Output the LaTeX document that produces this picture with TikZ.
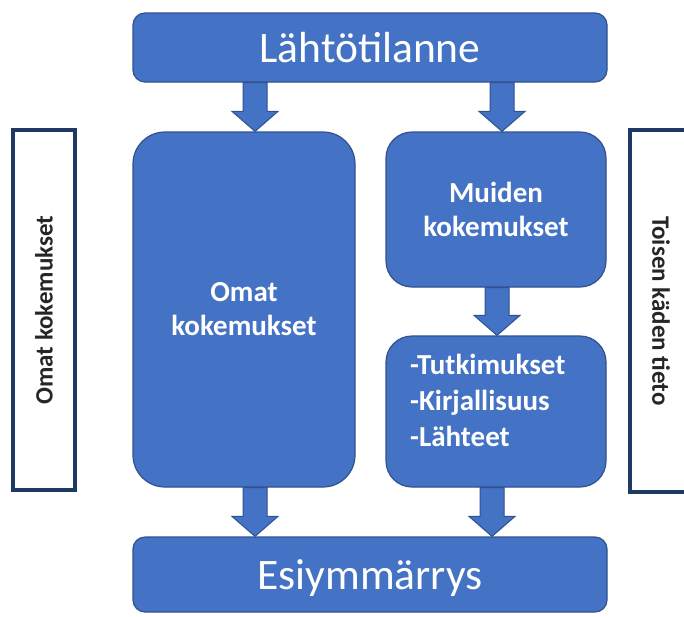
\documentclass[tikz,border=0pt]{standalone}
\usepackage{fontspec}
\setmainfont{Carlito}
\usetikzlibrary{calc}
\definecolor{boxblue}{HTML}{4472C4}
\definecolor{boxline}{HTML}{2F528F}
\definecolor{navy}{HTML}{1F3864}
\tikzset{
  bluebox/.style={draw=boxline, line width=1.2pt, fill=boxblue, text=white, inner sep=0pt},
  titlebox/.style={bluebox, rounded corners=12pt, font=\fontsize{43.5}{52}\selectfont, text height=29pt, text depth=0pt},
  bigbox/.style={bluebox, rounded corners=#1, font=\bfseries\fontsize{29}{34}\selectfont, align=center},
  sidebox/.style={draw=navy, line width=3.3pt, fill=white, inner sep=0pt, minimum width=62pt},
  sidetext/.style={font=\bfseries\fontsize{25}{30}\selectfont, text=black!85, inner sep=0pt},
  barrowstyle/.style={draw=boxline, line width=1pt, fill=boxblue, line join=miter},
}
\newcommand\blockarrow[2]{%
  \draw[barrowstyle] let \p1=(#1), \p2=(#2) in
    (\x1-12pt,\y1) -- (\x1+12pt,\y1) -- (\x1+12pt,\y2+20pt) -- (\x1+23pt,\y2+20pt)
    -- (\x1,\y2) -- (\x1-23pt,\y2+20pt) -- (\x1-12pt,\y2+20pt) -- cycle;}
\begin{document}
\begin{tikzpicture}[x=1pt,y=-1pt]
\useasboundingbox (0,0) rectangle (684,616);
% side boxes
\node[sidebox, minimum height=360pt] (lside) at (44,310) {};
\node[sidetext, rotate=90] (ltext) at (lside.center) {Omat kokemukset};
\node[sidebox, minimum height=362pt] (rside) at (661,311) {};
\node[sidetext, rotate=-90] (rtext) at (rside.center) {Toisen käden tieto};
% main boxes
\node[titlebox, minimum width=474pt, minimum height=69pt] (top) at (370,47.5) {Lähtötilanne};
\node[titlebox, minimum width=474pt, minimum height=75pt] (bot) at (370,574.5) {Esiymmärrys};
\node[bigbox=32pt, minimum width=222pt, minimum height=355pt] (lbig) at (244,309.5) {Omat\\kokemukset};
\node[bigbox=26pt, minimum width=220pt, minimum height=155pt] (rtop) at (496,209.5) {Muiden\\kokemukset};
\node[bigbox=26pt, minimum width=220pt, minimum height=151pt] (rbot) at (496,411.5) {};
\node[font=\bfseries\fontsize{29}{36}\selectfont, text=white, align=left, anchor=north west, inner sep=0pt] (rbottext) at (410,354) {-Tutkimukset\\-Kirjallisuus\\-Lähteet};
% arrows
\coordinate (a1s) at (255,0 |- top.south);  \coordinate (a1e) at (255,0 |- lbig.north);
\coordinate (a2s) at (502,0 |- top.south);  \coordinate (a2e) at (502,0 |- rtop.north);
\coordinate (a3s) at (497,0 |- rtop.south); \coordinate (a3e) at (497,0 |- rbot.north);
\coordinate (a4s) at (255,0 |- lbig.south); \coordinate (a4e) at (255,0 |- bot.north);
\coordinate (a5s) at (492,0 |- rbot.south); \coordinate (a5e) at (492,0 |- bot.north);
\blockarrow{a1s}{a1e}
\blockarrow{a2s}{a2e}
\blockarrow{a3s}{a3e}
\blockarrow{a4s}{a4e}
\blockarrow{a5s}{a5e}
\end{tikzpicture}
\end{document}
